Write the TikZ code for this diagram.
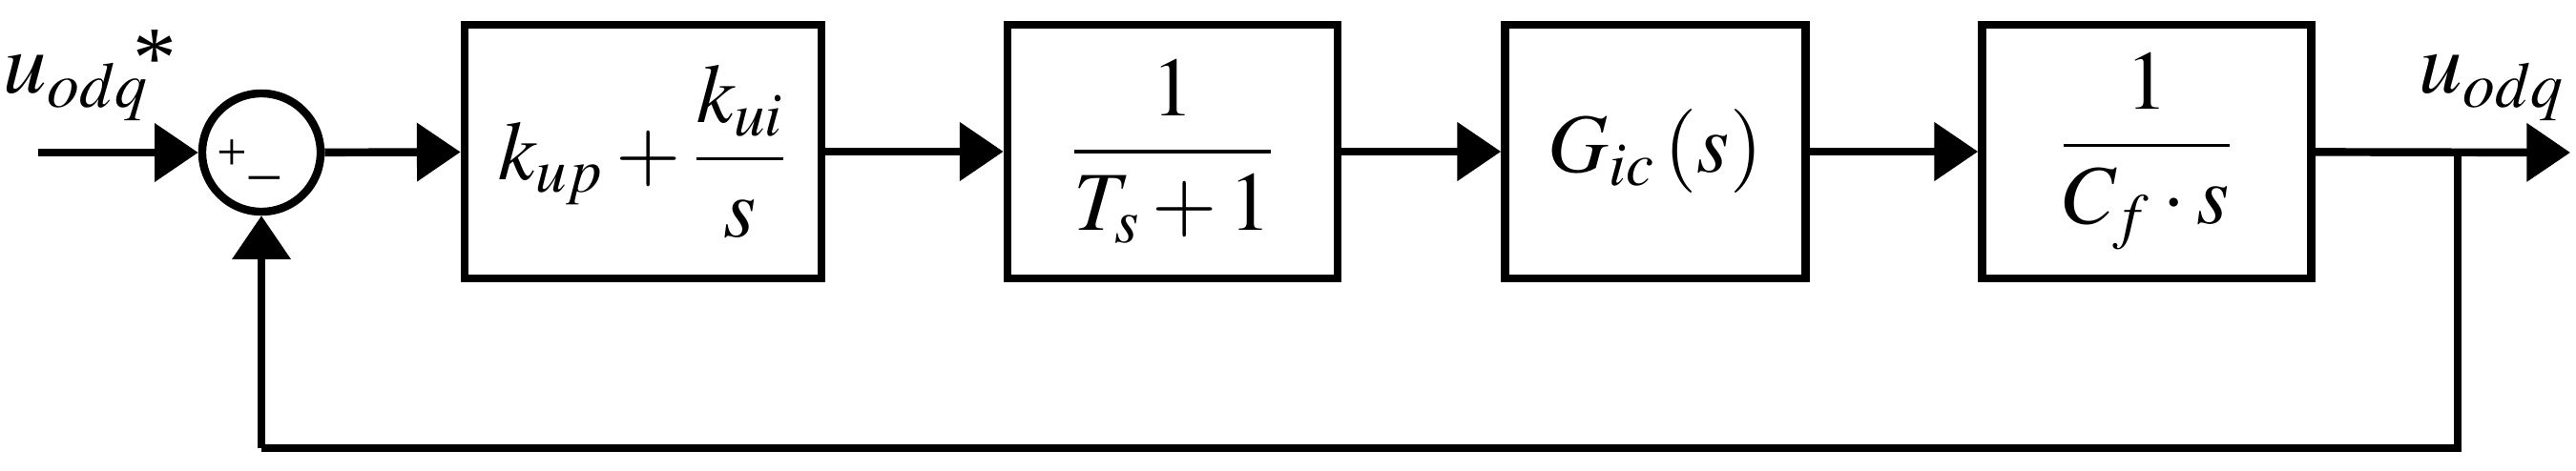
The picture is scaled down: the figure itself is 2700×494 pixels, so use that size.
\documentclass[tikz,border=0pt]{standalone}
\usepackage{amsmath}
\usepackage{mathptmx}
\usepackage[no-math]{fontspec}
\setmainfont{Liberation Serif}
\usetikzlibrary{arrows.meta}
\begin{document}
\begin{tikzpicture}[x=0.01cm,y=-0.01cm,
  blk/.style={draw,line width=2.4pt,inner sep=0pt,minimum height=2.66cm,font=\fontsize{25}{29}\selectfont},
  sig/.style={line width=2.4pt,-{Triangle[length=13pt,width=17pt]}},
  wire/.style={line width=2.4pt}]
\useasboundingbox (0,0) rectangle (2700,494);
\node[draw,circle,line width=2.4pt,minimum size=1.24cm,inner sep=0pt] (sum) at (274,160) {};
\node[font=\fontsize{16}{18}\selectfont] (plus) at (243,163) {+};
\node[font=\fontsize{18}{18}\selectfont] (minus) at (277,193) {\textendash};
\node[blk,minimum width=3.74cm] (b1) at (674,159) {$k_{up}+\dfrac{k_{ui}}{s}$};
\node[blk,minimum width=3.46cm] (b2) at (1229,159) {$\dfrac{1}{T_s+1}$};
\node[blk,minimum width=3.15cm] (b3) at (1735,159) {$G_{ic}\left(s\right)$};
\node[blk,minimum width=3.45cm] (b4) at (2250,159) {$\dfrac{1}{C_f\cdot s}$};
\coordinate (in) at (40,160);
\coordinate (br) at (2576,160);
\coordinate (out) at (2694,160);
\coordinate (fb) at (274,470);
\coordinate (fb2) at (2576,470);
\node[font=\fontsize{26}{28}\selectfont] (lin) at (80,92) {$u_{odq}$};
\node[font=\fontsize{26}{28}\selectfont] (star) at (162,62) {*};
\node[font=\fontsize{26}{28}\selectfont] (lout) at (2612,92) {$u_{odq}$};
\draw[sig] (in) -- (sum);
\draw[sig] (sum) -- (b1);
\draw[sig] (b1) -- (b2);
\draw[sig] (b2) -- (b3);
\draw[sig] (b3) -- (b4);
\draw[sig] (b4) -- (out);
\draw[wire] (br) -- (fb2) -- (fb);
\draw[sig] (fb) -- (sum);
\end{tikzpicture}
\end{document}
